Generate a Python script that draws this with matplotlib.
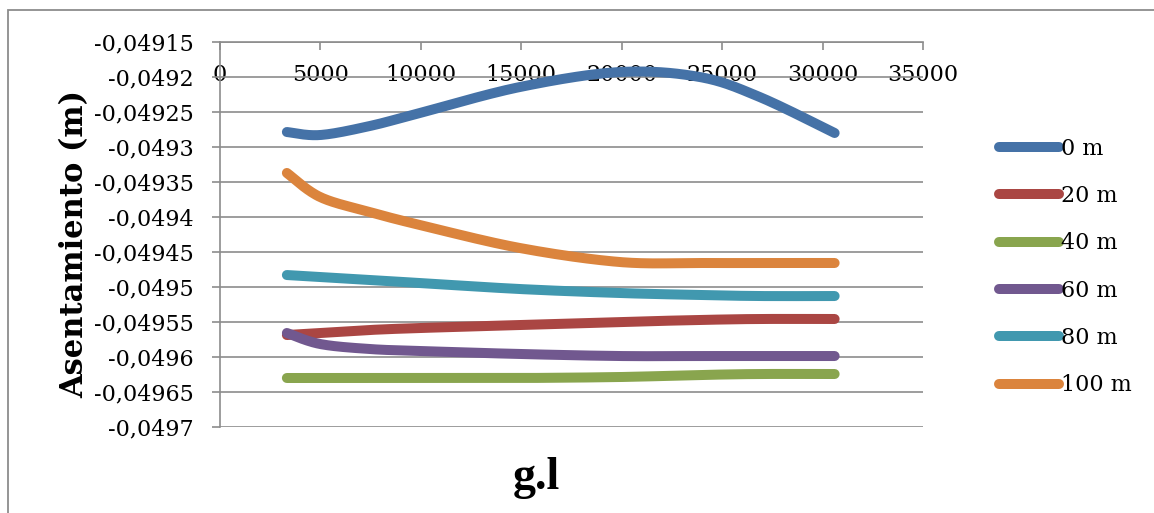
import numpy as np
import matplotlib
matplotlib.use("Agg")
import matplotlib.pyplot as plt
from matplotlib.patches import Rectangle

# ---------------- data ----------------
gl = [3330, 4980, 7460, 9950, 14930, 19900, 23880, 26870, 30600]
series_names = ["0 m", "20 m", "40 m", "60 m", "80 m", "100 m"]
s0 = [-0.0492786, -0.0492829, -0.0492700, -0.0492514, -0.0492143,
      -0.0491929, -0.0492000, -0.0492286, -0.0492800]
s20 = [-0.0495686, -0.0495657, -0.0495614, -0.0495586, -0.0495543,
       -0.0495500, -0.0495471, -0.0495457, -0.0495457]
s40 = [-0.0496300, -0.0496300, -0.0496300, -0.0496300, -0.0496300,
       -0.0496286, -0.0496257, -0.0496243, -0.0496243]
s60 = [-0.0495657, -0.0495814, -0.0495886, -0.0495914, -0.0495957,
       -0.0495986, -0.0495986, -0.0495986, -0.0495986]
s80 = [-0.0494829, -0.0494857, -0.0494900, -0.0494943, -0.0495029,
       -0.0495086, -0.0495114, -0.0495129, -0.0495129]
s100 = [-0.0493371, -0.0493714, -0.0493929, -0.0494114, -0.0494443,
        -0.0494643, -0.0494657, -0.0494657, -0.0494657]
colors = ["#4572A7", "#AA4643", "#89A54E", "#71588F", "#4198AF", "#DB843D"]

x_ticks = [0, 5000, 10000, 15000, 20000, 25000, 30000, 35000]
y_ticks = [-0.04915, -0.0492, -0.04925, -0.0493, -0.04935, -0.0494, -0.04945,
           -0.0495, -0.04955, -0.0496, -0.04965, -0.0497]
x_label = "g.l"
y_label = "Asentamiento (m)"


def smooth(xs, ys, n=30):
    """Excel-like smoothed line (Catmull-Rom Bezier through the points)."""
    P = np.column_stack([xs, ys]).astype(float)
    m = len(P)
    out = []
    for i in range(m - 1):
        p0 = P[max(i - 1, 0)]
        p1 = P[i]
        p2 = P[i + 1]
        p3 = P[min(i + 2, m - 1)]
        c1 = p1 + (p2 - p0) / 6.0
        c2 = p2 - (p3 - p1) / 6.0
        t = np.linspace(0, 1, n)[:, None]
        seg = ((1 - t) ** 3) * p1 + 3 * ((1 - t) ** 2) * t * c1 + 3 * (1 - t) * t ** 2 * c2 + t ** 3 * p2
        if i > 0:
            seg = seg[1:]
        out.append(seg)
    out = np.vstack(out)
    return out[:, 0], out[:, 1]


plt.rcParams["font.family"] = ["DejaVu Serif"]

W, H = 1154, 513
fig = plt.figure(figsize=(W / 100, H / 100), dpi=100)
ax = fig.add_axes([220 / W, 1 - 427 / H, (923 - 220) / W, (427 - 42) / H])

# outer chart frame
fig.patches.append(Rectangle((8 / W, -0.2), 1.5, 1.2 - 10 / H, transform=fig.transFigure,
                             fill=False, edgecolor="#8c8c8c", linewidth=1.3))

all_series = [s0, s20, s40, s60, s80, s100]
for name, ys, c in zip(series_names, all_series, colors):
    sx, sy = smooth(gl, ys)
    ax.plot(sx, sy, color=c, linewidth=7.2, solid_capstyle="round",
            solid_joinstyle="round", label=name, zorder=3)

ax.set_xlim(0, 35000)
ax.set_ylim(-0.0497, -0.04915)
ax.set_xticks(x_ticks)
ax.set_xticklabels([str(v) for v in x_ticks])
ax.set_yticks(y_ticks)
ax.set_yticklabels([f"{v:.5f}".rstrip("0").replace(".", ",") for v in y_ticks])

ax.grid(axis="y", color="#8c8c8c", linewidth=1.2)
ax.set_axisbelow(True)
for side in ["bottom", "right"]:
    ax.spines[side].set_visible(False)
for side in ["left", "top"]:
    ax.spines[side].set_color("#8c8c8c")
    ax.spines[side].set_linewidth(1.2)

ax.xaxis.tick_top()
ax.tick_params(axis="x", which="both", top=True, bottom=False, labeltop=True,
               labelbottom=False, direction="in", length=6, width=1.2,
               color="#8c8c8c", labelsize=16, pad=-32)
ax.tick_params(axis="y", direction="out", length=6, width=1.2, color="#8c8c8c",
               labelsize=16, pad=13)

fig.text(75 / W, 1 - 244 / H, y_label, rotation=90, ha="center", va="center",
         fontsize=22, fontweight="bold", family="DejaVu Serif")
fig.text(536 / W, 1 - 478 / H, x_label, ha="center", va="center",
         fontsize=33, fontweight="bold", family="Liberation Serif")

leg = ax.legend(loc="center left", bbox_to_anchor=(999 / W, 1 - 267 / H),
                bbox_transform=fig.transFigure, frameon=False, fontsize=16,
                handlelength=2.7, handletextpad=0.1, labelspacing=1.14,
                borderpad=0, borderaxespad=0)

fig.savefig("out.png", dpi=100)
